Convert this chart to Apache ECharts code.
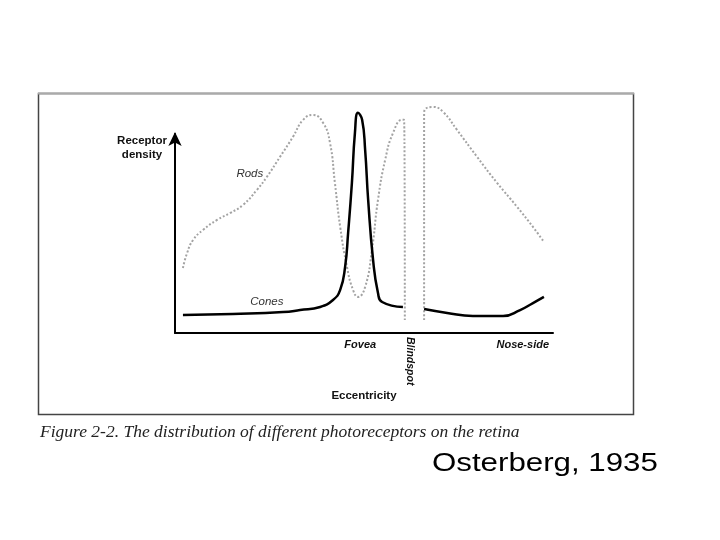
<!DOCTYPE html>
<html>
<head>
<meta charset="utf-8">
<script src="https://cdn.jsdelivr.net/npm/echarts@6/dist/echarts.min.js"></script>
<style>
  html, body { margin: 0; padding: 0; background: #fff; }
  #chart { width: 720px; height: 540px; }
</style>
</head>
<body>
<div id="chart"></div>
<script>
// eccentricity (arbitrary units, 0..100) and receptor density (arbitrary units)
const rodsX = [2.1, 3.2, 4.8, 7.4, 11.1, 14.6, 18.0, 21.7, 24.3, 27.8, 31.2, 33.9, 36.5, 39.2, 41.0, 42.3, 43.7, 45.5, 47.1, 48.4, 50.3, 52.1, 53.7, 55.6, 57.7, 60.1, 60.6, 60.8, null, 65.9, 65.9, 68.3, 70.9, 74.6, 79.9, 85.2, 90.5, 94.7, 97.6];
const rodsY = [31.7, 39.0, 45.4, 50.2, 55.1, 58.5, 62.4, 69.8, 76.1, 85.9, 95.6, 103.9, 106.3, 102.4, 92.7, 73.2, 51.7, 32.2, 21.0, 17.6, 22.4, 40.5, 64.9, 84.4, 97.6, 103.9, 103.9, 6.3, null, 6.3, 107.3, 110.2, 107.8, 99.0, 85.9, 73.2, 61.5, 51.7, 44.4];

const conesX = [2.1, 15.3, 28.6, 33.1, 38.4, 41.8, 43.7, 45.0, 45.8, 46.8, 47.6, 48.4, 49.5, 50.3, 51.1, 52.4, 53.7, 54.8, 60.3, null, 65.9, 72.0, 78.8, 86.8, 91.3, 94.7, 97.6];
const conesY = [8.8, 9.3, 10.2, 11.2, 12.7, 16.1, 21.0, 32.2, 48.8, 73.2, 97.6, 107.3, 103.9, 89.3, 64.9, 35.6, 19.5, 15.1, 12.7, null, 11.7, 9.8, 8.3, 8.3, 11.2, 14.6, 17.6];

const landmarkValues = [49, 92];
const landmarkNames = ['Fovea', 'Nose-side'];
const blindspotValue = [62.2];
const blindspotName = 'Blindspot';

const rodsLabelAt = [19.8, 77.6];
const conesLabelAt = [24.3, 15.1];

function pairs(xs, ys) {
  return xs.map((x, i) => (x === null ? [null, null] : [x, ys[i]]));
}

const sans = "'Liberation Sans', Arial, sans-serif";

const chart = echarts.init(document.getElementById('chart'));

const option = {
  animation: false,
  backgroundColor: '#fff',
  title: [
    {
      text: 'Figure 2-2. The distribution of different photoreceptors on the retina',
      left: 40,
      top: 423,
      padding: 0,
      textStyle: {
        fontFamily: "'Liberation Serif', 'DejaVu Serif', serif",
        fontStyle: 'italic',
        fontWeight: 'normal',
        fontSize: 17.5,
        color: '#222'
      }
    }
  ],
  graphic: [
    {
      type: 'rect',
      shape: { x: 38.5, y: 93.5, width: 595, height: 321 },
      style: { fill: 'none', stroke: '#444', lineWidth: 1.5 },
      silent: true
    },
    {
      type: 'line',
      shape: { x1: 38, y1: 93.5, x2: 634, y2: 93.5 },
      style: { stroke: '#aaa', lineWidth: 2 },
      silent: true
    },
    {
      type: 'text',
      x: 432,
      y: 464,
      scaleX: 1.25,
      style: {
        text: 'Osterberg, 1935',
        fontFamily: sans,
        fontSize: 25,
        fill: '#000',
        textVerticalAlign: 'middle'
      },
      silent: true
    }
  ],
  grid: {
    left: 175,
    right: 167,
    top: 134,
    bottom: 207
  },
  xAxis: [
    {
      type: 'value',
      min: 0,
      max: 100,
      name: 'Eccentricity',
      nameLocation: 'middle',
      nameGap: 57,
      nameTextStyle: {
        fontFamily: sans,
        fontWeight: 'bold',
        fontSize: 11.5,
        color: '#111'
      },
      axisLine: { show: true, lineStyle: { color: '#000', width: 2 } },
      axisTick: { show: false },
      splitLine: { show: false },
      axisLabel: {
        customValues: landmarkValues,
        formatter: (v) => landmarkNames[landmarkValues.indexOf(v)] || '',
        margin: 6,
        fontFamily: sans,
        fontWeight: 'bold',
        fontStyle: 'italic',
        fontSize: 11,
        color: '#111'
      }
    },
    {
      type: 'value',
      position: 'bottom',
      min: 0,
      max: 100,
      axisLine: { show: false },
      axisTick: { show: false },
      splitLine: { show: false },
      axisLabel: {
        customValues: blindspotValue,
        formatter: () => blindspotName,
        rotate: -90,
        margin: 4,
        fontFamily: sans,
        fontWeight: 'bold',
        fontStyle: 'italic',
        fontSize: 10.5,
        color: '#111'
      }
    }
  ],
  yAxis: {
    type: 'value',
    min: 0,
    max: 97,
    name: 'Receptor\ndensity',
    nameLocation: 'end',
    nameGap: -28,
    nameTextStyle: {
      fontFamily: sans,
      fontWeight: 'bold',
      fontSize: 11.5,
      lineHeight: 14,
      color: '#111',
      align: 'center',
      padding: [0, 66, 0, 0]
    },
    axisLine: {
      show: true,
      symbol: ['none', 'arrow'],
      symbolSize: [10, 14],
      symbolOffset: [0, 2],
      lineStyle: { color: '#000', width: 2 }
    },
    axisTick: { show: false },
    axisLabel: { show: false },
    splitLine: { show: false }
  },
  series: [
    {
      name: 'Rods',
      type: 'line',
      data: pairs(rodsX, rodsY),
      clip: false,
      smooth: 0.5,
      connectNulls: false,
      showSymbol: false,
      lineStyle: { color: '#a3a3a3', width: 2, type: [2, 2] },
      markPoint: {
        symbol: 'circle',
        symbolSize: 0,
        data: [{ coord: rodsLabelAt, value: 'Rods' }],
        label: {
          show: true,
          formatter: 'Rods',
          fontFamily: sans,
          fontStyle: 'italic',
          fontSize: 11.5,
          color: '#333'
        }
      }
    },
    {
      name: 'Cones',
      type: 'line',
      data: pairs(conesX, conesY),
      clip: false,
      smooth: 0.5,
      connectNulls: false,
      showSymbol: false,
      lineStyle: { color: '#000', width: 2.5 },
      markPoint: {
        symbol: 'circle',
        symbolSize: 0,
        data: [{ coord: conesLabelAt, value: 'Cones' }],
        label: {
          show: true,
          formatter: 'Cones',
          fontFamily: sans,
          fontStyle: 'italic',
          fontSize: 11.5,
          color: '#333'
        }
      }
    }
  ]
};

chart.setOption(option);
</script>
</body>
</html>
